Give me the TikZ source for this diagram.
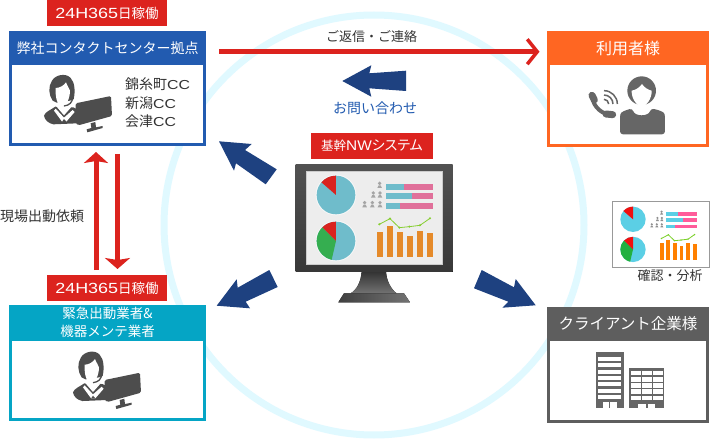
\documentclass[tikz,border=0pt]{standalone}
\usepackage{fontspec}
\setmainfont{Noto Sans CJK JP}
\newfontfamily\widelat[FakeStretch=1.22]{Liberation Sans}
\newfontfamily\palt[RawFeature=+palt]{Noto Sans CJK JP}
\usetikzlibrary{arrows.meta}
\definecolor{ringc}{HTML}{E0F9FF}
\definecolor{redc}{HTML}{DC231E}
\definecolor{navyc}{HTML}{1E4180}
\definecolor{bluec}{HTML}{225BB0}
\definecolor{tealc}{HTML}{05A5C5}
\definecolor{orangec}{HTML}{FF6622}
\definecolor{greyc}{HTML}{5E5E5E}
\definecolor{txtc}{HTML}{333333}
\definecolor{iconc}{HTML}{4D4D4D}
\definecolor{iconb}{HTML}{666666}
\definecolor{mteal}{HTML}{6FBCCB}
\definecolor{mred}{HTML}{D9231F}
\definecolor{mgreen}{HTML}{35AE50}
\definecolor{mpink}{HTML}{E0709A}
\definecolor{morange}{HTML}{E58A2A}
\definecolor{mgrey}{HTML}{A5A5A5}
\definecolor{steal}{HTML}{5BCFE5}
\definecolor{sred}{HTML}{F01010}
\definecolor{sgreen}{HTML}{22B040}
\definecolor{spink}{HTML}{FF5C9A}
\definecolor{sorange}{HTML}{FF8000}
\definecolor{sgrey}{HTML}{909090}
\newcommand{\fs}[1]{\fontsize{#1}{#1}\selectfont}
\newcommand{\tagtext}{{\fs{14.7}\widelat 24H365}{\fs{13.5}日稼働}}
\tikzset{
  tagbox/.style={fill=redc,text=white,inner sep=0pt,outer sep=0pt,minimum width=120pt,minimum height=26pt,anchor=north west},
  panelbox/.style={fill=#1,inner sep=0pt,outer sep=0pt,anchor=north west},
  headtxt/.style={text=white,inner sep=0pt,align=center},
  plaintxt/.style={text=txtc,inner sep=0pt,font=\fs{14}},
  blockarrow/.style={fill=navyc},
  redline/.style={draw=redc,line width=5pt},
  ring/.style={draw=ringc,line width=7pt},
}
% operator icon, in 3x zoom coordinates
\newcommand{\operatoricon}{%
  \fill[iconc] (12,137) .. controls (16,125) and (32,120) .. (46,110) -- (100,112) -- (112,118) -- (112,160) -- (40,163) .. controls (25,160) and (14,150) .. (12,137) -- cycle;
  \fill[white] (48,108) -- (95,110) -- (72,136) -- cycle;
  \fill[white] (42,122) -- (47,116) -- (72,143) -- (98,120) -- (104,126) -- (78,156) -- (67,156) -- cycle;
  \fill[iconc] (72,147) -- (66,156) -- (80,156) -- cycle;
  \fill[iconc] (38,92) .. controls (26,75) and (24,50) .. (36,32) .. controls (46,14) and (78,8) .. (92,24) .. controls (105,38) and (106,65) .. (101,88) -- (90,92) -- (50,98) -- cycle;
  \fill[white] (47,54) .. controls (60,54) and (72,46) .. (78,37) .. controls (82,48) and (88,55) .. (90,62) .. controls (90,85) and (78,110) .. (67,110) .. controls (54,110) and (45,85) .. (47,54) -- cycle;
  \draw[iconc,line width=1.3pt] (98,80) .. controls (98,98) and (88,106) .. (72,108);
  \fill[iconc,rounded corners=1.5pt] (107,100) -- (213,78) -- (216,138) -- (115,166) -- (107,160) -- cycle;
  \fill[iconc] (152,160) -- (166,156) -- (168,172) -- (188,168) -- (188,174) -- (142,187) -- (140,178) -- (154,174) -- cycle;
}
% dashboard content, in zoom coordinates of the big monitor
\newcommand{\dashboard}[6]{%
  \fill[white,opacity=.6] (168,210) circle[radius=61];
  \fill[#1] (168,210) circle[radius=58];
  \begin{scope}[shift={(168,210)}]
    \fill[#2] (0,0) -- (-90:58) arc[start angle=-90,end angle=-139,radius=58] -- cycle;
  \end{scope}
  \fill[white,opacity=.6] (168,348) circle[radius=61];
  \fill[#1] (168,348) circle[radius=58];
  \begin{scope}[shift={(168,348)}]
    \fill[#3] (0,0) -- (-135:58) arc[start angle=-135,end angle=-257,radius=58] -- cycle;
    \fill[#2] (0,0) -- (-90:58) arc[start angle=-90,end angle=-135,radius=58] -- cycle;
  \end{scope}
  \fill[#1] (318,176) rectangle (372,194);
  \fill[#4] (372,176) rectangle (460,194);
  \fill[#1] (318,205) rectangle (396,222);
  \fill[#4] (396,205) rectangle (460,222);
  \fill[#1] (318,234) rectangle (360,252);
  \fill[#4] (360,234) rectangle (460,252);
  \foreach \px/\py in {299/180,280/209,300/209,254/238,277/238,300/238}{
    \fill[#6] (\px,\py-5) circle[radius=5.5];
    \fill[#6] (\px-7,\py+9) -- (\px-3,\py+1) -- (\px+3,\py+1) -- (\px+7,\py+9) -- cycle;
  }
  \foreach \bx/\by in {291/320,321/303,351/320,381/332,411/318,441/325}{
    \fill[#5] (\bx,\by) rectangle (\bx+18,395);
  }
  \draw[#3!60!yellow,line width=.8pt] (298,298) -- (330,281) -- (358,308) -- (388,305) -- (420,301) -- (450,280);
  \foreach \lx/\ly in {298/298,330/281,358/308,388/305,420/301,450/280}{
    \fill[#3!60!yellow] (\lx,\ly) circle[radius=3.5];
  }
}
\begin{document}
\begin{tikzpicture}[x=1pt,y=-1pt]
\useasboundingbox (0,0) rectangle (710,441);
\fill[white] (0,0) rectangle (710,441);
% ring
\draw[ring] (374,225) circle[radius=210];

% panels
\node[panelbox=bluec,minimum width=197pt,minimum height=115pt] (hq) at (9,31) {};
\fill[white] (12,65) rectangle (203,143);
\node[headtxt,font=\fs{14}] (hqtitle) at (107.5,48) {弊社コンタクトセンター拠点};
\node[tagbox] (hqtag) at (47,0) {\tagtext};

\node[panelbox=orangec,minimum width=162pt,minimum height=116pt] (user) at (547,31) {};
\fill[white] (550,65) rectangle (706,144);
\node[headtxt,font=\fs{16}] (usertitle) at (628,48) {利用者様};

\node[panelbox=tealc,minimum width=197pt,minimum height=116pt] (vendor) at (9,305) {};
\fill[white] (12,341) rectangle (203,418);
\node[headtxt,font=\fs{13.5}] (vendortitle) at (107.5,322.5) {緊急出動業者\&\\[5pt]機器メンテ業者};
\node[tagbox] (vendortag) at (47,275) {\tagtext};

\node[panelbox=greyc,minimum width=162pt,minimum height=116pt] (client) at (547,307) {};
\fill[white] (550,341) rectangle (706,420);
\node[headtxt,font=\fs{15.5}] (clienttitle) at (628,324) {クライアント企業様};

% operator icons
\begin{scope}[shift={(40,70)},x=.3333pt,y=-.3333pt]\operatoricon\end{scope}
\begin{scope}[shift={(69,346.7)},x=.3333pt,y=-.3333pt]\operatoricon\end{scope}

% cc list
\node[plaintxt,anchor=west] (cc1) at (125,84) {錦糸町{\fs{13}\widelat CC}};
\node[plaintxt,anchor=west] (cc2) at (125,103) {新潟{\fs{13}\widelat CC}};
\node[plaintxt,anchor=west] (cc3) at (125,121) {会津{\fs{13}\widelat CC}};

% phone user icon
\begin{scope}[shift={(580,70)},x=.3333pt,y=-.3333pt]
  \fill[iconb] (185,62) circle[radius=43];
  \fill[white] (155,62) .. controls (170,60) and (180,50) .. (186,42) .. controls (192,52) and (205,60) .. (215,62) .. controls (216,85) and (200,108) .. (185,110) .. controls (170,108) and (154,85) .. (155,62) -- cycle;
  \fill[iconb,rounded corners=3pt] (120,193) -- (120,142) .. controls (122,125) and (140,120) .. (157,115) .. controls (165,140) and (205,140) .. (213,115) .. controls (235,120) and (253,125) .. (255,142) -- (255,193) -- cycle;
  \draw[iconb,line width=4pt] (38,82) .. controls (38,110) and (70,136) .. (95,134);
  \draw[iconb,line width=7pt,line cap=round] (36,76) -- (43,90);
  \draw[iconb,line width=7pt,line cap=round] (78,132) -- (98,134);
  \draw[iconb,line width=1.5pt] (72,88) arc[start angle=-90,end angle=0,radius=14];
  \draw[iconb,line width=1.5pt] (72,75) arc[start angle=-90,end angle=0,radius=27];
  \draw[iconb,line width=1.5pt] (72,62) arc[start angle=-90,end angle=0,radius=40];
\end{scope}

% buildings
\begin{scope}[shift={(530,195)},x=.3333pt,y=-.3333pt]
  \fill[iconb] (197,472) rectangle (282,638);
  \foreach \yy in {486,505,524,543,562,581,600}{\fill[white] (205,\yy) rectangle (274,\yy+12);}
  \fill[white] (218,620) rectangle (237,638);
  \fill[white] (241,620) rectangle (260,638);
  \fill[iconb] (298,518) rectangle (402,638);
  \foreach \yy in {528,547,565,583,602}{
    \foreach \xx in {304,337,370}{\fill[white] (\xx,\yy) rectangle (\xx+28,\yy+13);}
  }
  \fill[white] (325,627) rectangle (347,638);
  \fill[white] (353,627) rectangle (375,638);
\end{scope}

% centre tag and monitor
\node[tagbox,minimum width=122pt] (systag) at (311,133) {{\fs{12.5}基幹}{\fs{14}\fontspec{Liberation Sans}[FakeStretch=1.1]NW}{\fs{14}\palt システム}};
\begin{scope}[shift={(280,125)},x=.3333pt,y=-.3333pt]
  \fill[top color=black!80,bottom color=black!55] (245,440) -- (318,440) .. controls (320,470) and (335,495) .. (350,505) -- (212,505) .. controls (230,495) and (243,470) .. (245,440) -- cycle;
  \fill[left color=black!75,right color=black!55] (192,505) -- (372,505) -- (390,532) -- (175,532) -- cycle;
  \fill[top color=black!68,middle color=black!60,bottom color=black!78] (47,120) rectangle (518,440);
  \fill[white!93!black,draw=white!80!black,line width=.6pt] (78,140) rectangle (487,418);
  \dashboard{mteal}{mred}{mgreen}{mpink}{morange}{mgrey}
\end{scope}

% small report panel
\node[panelbox=white,draw=black!40,line width=1pt,minimum width=97pt,minimum height=65pt] (report) at (612,202) {};
\begin{scope}[shift={(633,219.3)},x=.2183pt,y=-.2183pt,shift={(-168,-210)}]
  \dashboard{steal}{sred}{sgreen}{spink}{sorange}{sgrey}
\end{scope}
\node[plaintxt,font=\fs{13}] (reporttxt) at (670,276) {確認・分析};

% red connectors
\coordinate (a1) at (219,51.7);
\coordinate (a2) at (539.5,51.7);
\draw[redline,-{Straight Barb[length=10pt,width=25pt,line width=3.5pt]}] (a1) -- (a2);
\coordinate (b1) at (96,270);
\coordinate (b2) at (96,152);
\draw[redline,-{Stealth[length=11pt,width=24pt,inset=2pt]}] (b1) -- (b2);
\coordinate (c1) at (117.5,154);
\coordinate (c2) at (117.5,269);
\draw[redline,-{Stealth[length=11pt,width=25pt,inset=2pt]}] (c1) -- (c2);

% labels
\node[plaintxt,font=\fs{13}] (replylbl) at (371.5,37) {ご返信・ご連絡};
\node[plaintxt,text=bluec] (inqlbl) at (375,108) {お問い合わせ};
\node[plaintxt,anchor=west] (reqlbl) at (0,216) {現場出動依頼};

% blue block arrows
\fill[blockarrow] (342.3,81) -- (371.3,65.3) -- (369.3,73.3) -- (406,70.7) -- (406,91) -- (369.3,88.3) -- (371.3,96.7) -- cycle;
\fill[blockarrow] (219,141.3) -- (251.7,144) -- (245,150) -- (276.7,169.3) -- (265.7,184.3) -- (236,163.3) -- (234,170.7) -- cycle;
\fill[blockarrow] (216.7,305.7) -- (236.7,279.3) -- (237.7,287.7) -- (269.3,270) -- (277.7,287) -- (245.7,301.7) -- (250,308.3) -- cycle;
\fill[blockarrow] (535.7,305.3) -- (515.7,279) -- (514,287.3) -- (481.7,270) -- (474,288.3) -- (508.3,301.7) -- (502.3,307.7) -- cycle;
\end{tikzpicture}
\end{document}
